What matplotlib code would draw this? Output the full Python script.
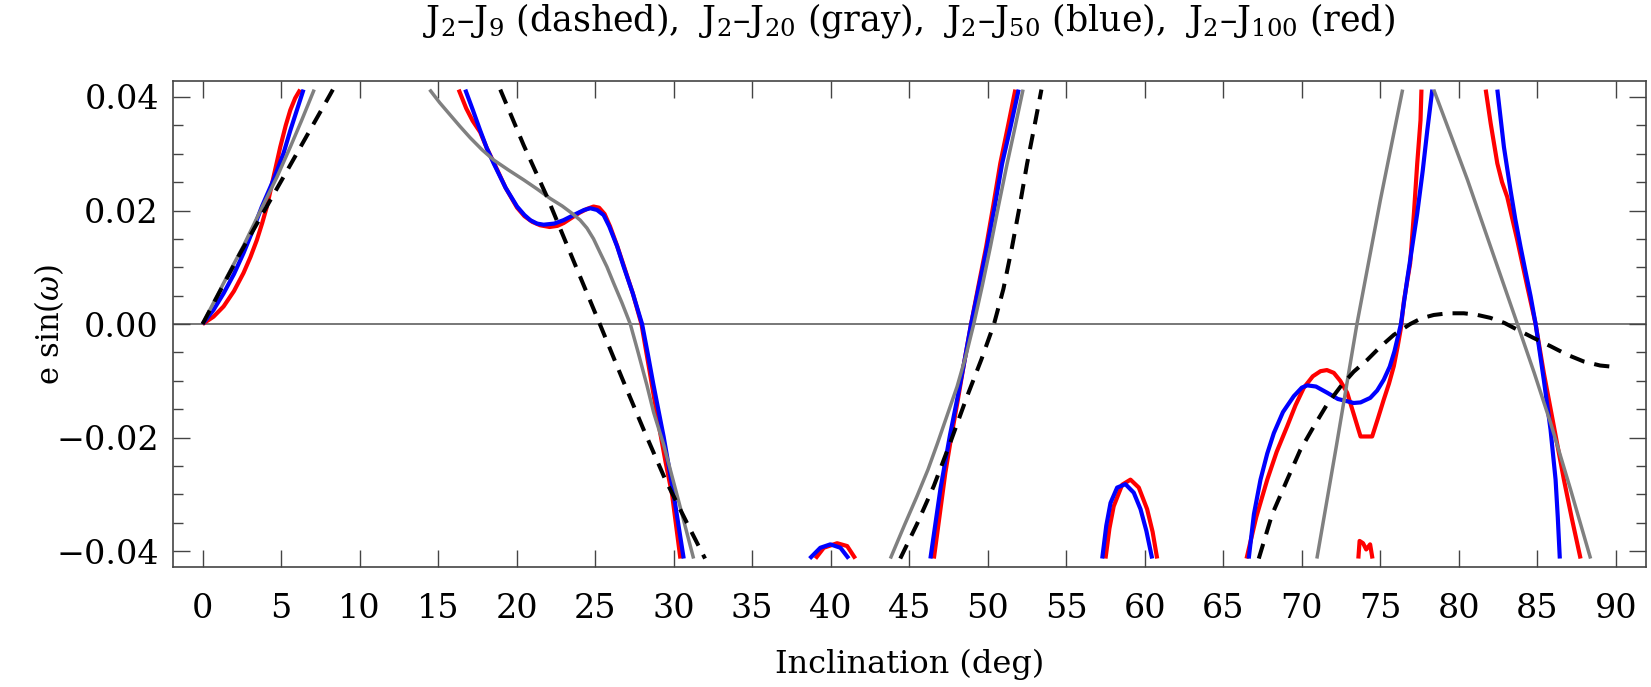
import matplotlib.pyplot as plt
from matplotlib.ticker import MultipleLocator, FuncFormatter

plt.rcParams['font.family'] = 'DejaVu Serif'
plt.rcParams['mathtext.fontset'] = 'dejavuserif'

# J2-J9 (dashed), pieces between plot-range clips
j9_1_x = [0, 2.4, 5.4, 8.1, 8.3]
j9_1_y = [0, 0.0125, 0.0271, 0.0403, 0.0413]
j9_2_x = [18.96, 20.45, 21.94, 23.6, 25.3, 26.71, 28.09, 29.47, 31.06, 32.0]
j9_2_y = [0.0413, 0.0315, 0.0224, 0.0113, 0, -0.0095, -0.0186, -0.0274, -0.0362, -0.0413]
j9_3_x = [44.43, 45.5, 46.57, 47.6, 48.69, 49.6, 50.4, 51.0, 51.55, 52.05, 52.51, 52.95, 53.42]
j9_3_y = [-0.0413, -0.0352, -0.0285, -0.0210, -0.0127, -0.0062, 0, 0.0062, 0.0136, 0.0210, 0.0283, 0.0345, 0.0413]
j9_4_x = [67.26, 68.1, 69.07, 69.9, 70.77, 71.6, 72.47, 73.3, 74.17, 75.0, 75.86, 76.9, 77.6, 78.4, 79.3, 80.32, 81.2, 82.0, 82.9, 83.73, 84.8, 85.84, 86.9, 87.96, 89.0, 90.09]
j9_4_y = [-0.0413, -0.0336, -0.0274, -0.0222, -0.018, -0.0142, -0.011, -0.0084, -0.0063, -0.0040, -0.0019, 0, 0.0010, 0.0016, 0.0019, 0.0019, 0.0016, 0.0011, 0.0002, -0.001, -0.0025, -0.0039, -0.0054, -0.0066, -0.0073, -0.0076]

# J2-J20 (gray)
j20_1_x = [0, 1.34, 2.61, 3.78, 4.74, 5.59, 6.3, 7.11]
j20_1_y = [0, 0.0072, 0.0138, 0.0205, 0.0259, 0.0312, 0.0358, 0.0413]
j20_2_x = [14.46, 15.1, 15.78, 16.4, 17.05, 17.8, 18.54, 19.5, 20.45, 21.3, 22.15, 22.9, 23.53, 24.05, 24.48, 24.9,
           25.33, 25.75, 26.18, 26.7, 27.24, 27.7, 28.3, 28.73, 29.36, 30.3, 31.27]
j20_2_y = [0.0413, 0.0390, 0.0368, 0.0348, 0.0328, 0.0307, 0.0289, 0.0271, 0.0254, 0.0238, 0.0221, 0.0208, 0.0195,
           0.0183, 0.0169, 0.0150, 0.0125, 0.0101, 0.0072, 0.0038, 0, -0.0046, -0.0108, -0.0156, -0.0212, -0.0310, -0.0413]
j20_3_x = [43.8, 44.7, 45.5, 46.2, 46.8, 47.4, 48.05, 48.6, 49.11, 49.65, 50.17, 50.7, 51.24, 51.75, 52.25]
j20_3_y = [-0.0413, -0.0354, -0.0303, -0.0256, -0.0210, -0.0162, -0.011, -0.0057, 0, 0.0067, 0.0136, 0.0210, 0.0283, 0.0348, 0.0413]
j20_4_x = [70.96, 72.2, 73.51, 75.0, 76.42]
j20_4_y = [-0.0413, -0.0215, 0, 0.0218, 0.0413]
j20_5_x = [78.4, 79.5, 80.55, 82.1, 83.73, 84.8, 85.84, 87.1, 88.39]
j20_5_y = [0.0413, 0.0332, 0.0254, 0.0130, 0, -0.0086, -0.0174, -0.0290, -0.0413]

# J2-J50 (blue)
j50_1_x = [0, 0.7, 1.34, 2.0, 2.61, 3.2, 3.78, 4.52, 5.16, 5.59, 6.01, 6.43]
j50_1_y = [0, 0.0025, 0.0054, 0.0088, 0.0125, 0.0165, 0.0207, 0.0254, 0.0301, 0.0341, 0.0377, 0.0413]
j50_2_x = [16.73, 17.2, 17.68, 18.1, 18.54, 19.3, 20.03, 20.5, 20.87, 21.3, 21.72, 22.4, 22.99, 23.85, 24.3, 24.69,
           25.12, 25.54, 25.9, 26.4, 26.82, 27.4, 27.99, 28.35, 28.7, 29.36, 30.0, 30.64]
j50_2_y = [0.0413, 0.0378, 0.0341, 0.0310, 0.0283, 0.0240, 0.0207, 0.0192, 0.0183, 0.0177, 0.0175, 0.0177, 0.0183,
           0.0195, 0.0201, 0.0204, 0.0201, 0.0192, 0.0172, 0.0137, 0.0101, 0.0054, 0, -0.0052, -0.0105, -0.0198, -0.030, -0.0413]
j50_3_x = [38.66, 39.34, 39.98, 40.62, 41.15]
j50_3_y = [-0.0413, -0.0394, -0.0388, -0.0394, -0.0413]
j50_4_x = [46.35, 46.99, 47.6, 48.05, 48.5, 48.94, 49.45, 49.96, 50.45, 50.92, 51.45, 51.97]
j50_4_y = [-0.0413, -0.0290, -0.0195, -0.0133, -0.0068, 0, 0.0068, 0.0136, 0.0208, 0.0283, 0.0347, 0.0413]
j50_5_x = [57.29, 57.55, 57.82, 58.24, 58.77, 59.30, 59.73, 60.1, 60.47]
j50_5_y = [-0.0413, -0.0355, -0.0315, -0.0288, -0.0282, -0.0297, -0.0326, -0.0364, -0.0413]
j50_6_x = [66.62, 66.95, 67.37, 67.8, 68.22, 68.8, 69.49, 70.0, 70.35, 70.9, 71.62, 72.3, 72.89, 73.3, 73.74, 74.36,
           74.8, 75.22, 75.6, 75.9, 76.31, 76.71, 77.05, 77.35, 77.7, 77.99, 78.31]
j50_6_y = [-0.0413, -0.0335, -0.0274, -0.0228, -0.0192, -0.0155, -0.0127, -0.0112, -0.0108, -0.0110, -0.0121, -0.0132,
           -0.0136, -0.0139, -0.0138, -0.0130, -0.0117, -0.0098, -0.0075, -0.0048, 0, 0.0078, 0.0140, 0.0195, 0.0270, 0.0341, 0.0413]
j50_7_x = [82.45, 82.87, 83.29, 83.6, 83.93, 84.25, 84.57, 84.89, 85.41, 85.84, 86.16, 86.3, 86.43]
j50_7_y = [0.0413, 0.0312, 0.0236, 0.0184, 0.0136, 0.0092, 0.0049, 0, -0.0098, -0.0186, -0.0274, -0.0340, -0.0413]

# J2-J100 (red)
j100_1_x = [0, 0.7, 1.34, 2.0, 2.61, 3.05, 3.46, 3.8, 4.10, 4.48, 4.95, 5.3, 5.59, 5.9, 6.22]
j100_1_y = [0, 0.0013, 0.0031, 0.0058, 0.009, 0.0118, 0.0148, 0.0178, 0.0207, 0.0254, 0.0312, 0.0350, 0.0377, 0.0398, 0.0413]
j100_2_x = [16.31, 16.79, 17.2, 17.68, 18.1, 18.54, 19.3, 20.03, 20.5, 21.0, 21.5, 22.1, 22.6, 23.0, 23.5, 24.0,
            24.5, 24.9, 25.25, 25.6, 25.95, 26.4, 26.82, 27.4, 27.95, 28.5, 29.0, 29.5, 29.9, 30.43]
j100_2_y = [0.0413, 0.0380, 0.0358, 0.0338, 0.0310, 0.0285, 0.0240, 0.0205, 0.0190, 0.0180, 0.0174, 0.0171, 0.0173,
            0.0178, 0.0187, 0.0196, 0.0203, 0.0207, 0.0205, 0.0194, 0.0172, 0.0138, 0.0103, 0.0054, 0, -0.0088, -0.017,
            -0.0245, -0.030, -0.0413]
j100_3_x = [39.03, 39.56, 40.41, 41.05, 41.57]
j100_3_y = [-0.0413, -0.0394, -0.0386, -0.0391, -0.0413]
j100_4_x = [46.57, 47.3, 47.7, 48.1, 48.5, 48.94, 49.4, 49.9, 50.35, 50.8, 51.3, 51.76]
j100_4_y = [-0.0413, -0.0262, -0.0195, -0.0133, -0.0068, 0, 0.0066, 0.0136, 0.0208, 0.0283, 0.0350, 0.0413]
j100_5_x = [57.5, 57.75, 58.02, 58.56, 59.09, 59.62, 60.15, 60.5, 60.79]
j100_5_y = [-0.0413, -0.0360, -0.0321, -0.0283, -0.0274, -0.0288, -0.0326, -0.0366, -0.0413]
j100_6_x = [66.48, 67.1, 67.8, 68.4, 69.07, 69.6, 70.13, 70.7, 71.19, 71.6, 72.04, 72.45, 72.89, 73.3, 73.74, 74.48,
            74.85, 75.22, 75.55, 75.86, 76.1, 76.31, 76.5, 76.9, 77.14, 77.35, 77.56, 77.62]
j100_6_y = [-0.0413, -0.0340, -0.0274, -0.0225, -0.018, -0.0143, -0.0112, -0.0092, -0.0083, -0.0081, -0.0086, -0.0100,
            -0.0121, -0.0158, -0.0198, -0.0198, -0.0166, -0.0133, -0.0105, -0.0074, -0.0040, -0.0007, 0.0040, 0.0107,
            0.0195, 0.0283, 0.0359, 0.0413]
j100_7_x = [73.6, 73.68, 73.9, 74.1, 74.35, 74.5]
j100_7_y = [-0.0413, -0.0382, -0.0386, -0.0397, -0.0388, -0.0413]
j100_8_x = [81.71, 82.03, 82.45, 82.75, 83.08, 83.4, 83.72, 84.04, 84.36, 84.89, 85.41, 86.05, 86.69, 87.2, 87.75]
j100_8_y = [0.0413, 0.0353, 0.0283, 0.0250, 0.0224, 0.0186, 0.0148, 0.0107, 0.0066, 0, -0.0086, -0.018, -0.0274, -0.0343, -0.0413]

red_parts = [(j100_1_x, j100_1_y), (j100_2_x, j100_2_y), (j100_3_x, j100_3_y), (j100_4_x, j100_4_y),
             (j100_5_x, j100_5_y), (j100_6_x, j100_6_y), (j100_7_x, j100_7_y), (j100_8_x, j100_8_y)]
blue_parts = [(j50_1_x, j50_1_y), (j50_2_x, j50_2_y), (j50_3_x, j50_3_y), (j50_4_x, j50_4_y),
              (j50_5_x, j50_5_y), (j50_6_x, j50_6_y), (j50_7_x, j50_7_y)]
gray_parts = [(j20_1_x, j20_1_y), (j20_2_x, j20_2_y), (j20_3_x, j20_3_y), (j20_4_x, j20_4_y), (j20_5_x, j20_5_y)]
dash_parts = [(j9_1_x, j9_1_y), (j9_2_x, j9_2_y), (j9_3_x, j9_3_y), (j9_4_x, j9_4_y)]

fig = plt.figure(figsize=(16.51, 6.87), dpi=100)
ax = fig.add_axes([0.1046, 0.1754, 0.8922, 0.7066])

ax.axhline(0, color='#777777', lw=1.4, zorder=1)

for x, y in red_parts:
    ax.plot(x, y, color='red', lw=3.0, solid_capstyle='butt', solid_joinstyle='round', zorder=2)
for x, y in blue_parts:
    ax.plot(x, y, color='blue', lw=3.0, solid_capstyle='butt', solid_joinstyle='round', zorder=3)
for x, y in gray_parts:
    ax.plot(x, y, color='#808080', lw=2.5, solid_capstyle='butt', solid_joinstyle='round', zorder=4)
for x, y in dash_parts:
    ax.plot(x, y, color='black', lw=2.9, dashes=(3.8, 2.5), zorder=5)

ax.set_xlim(-1.9, 91.9)
ax.set_ylim(-0.0427, 0.0428)

ax.xaxis.set_major_locator(MultipleLocator(5))
ax.yaxis.set_major_locator(MultipleLocator(0.02))
ax.yaxis.set_minor_locator(MultipleLocator(0.005))
ax.yaxis.set_major_formatter(FuncFormatter(lambda v, p: f'{v:.2f}'.replace('-', '\u2212') if abs(v) > 1e-9 else '0.00'))

ax.tick_params(axis='both', which='both', direction='in', top=True, right=True, color='#444444')
ax.tick_params(axis='both', which='major', length=12, width=1.0, labelsize=24)
ax.tick_params(axis='y', which='minor', length=7, width=1.0)
ax.tick_params(axis='x', which='major', pad=19)
ax.tick_params(axis='y', which='major', pad=10)
for s in ax.spines.values():
    s.set_color('#444444')
    s.set_linewidth(1.2)

ax.set_xlabel('Inclination (deg)', fontsize=23, va='center')
ax.xaxis.set_label_coords(0.5, -0.201)
ax.set_ylabel(r'e sin($\omega$)', fontsize=22, va='center')
ax.yaxis.set_label_coords(-0.0836, 0.4995)
ax.set_title(r'J$_2$–J$_9$ (dashed),  J$_2$–J$_{20}$ (gray),  J$_2$–J$_{50}$ (blue),  J$_2$–J$_{100}$ (red)',
             fontsize=25, y=1.108, va='center')

fig.savefig('out.png', dpi=100)
